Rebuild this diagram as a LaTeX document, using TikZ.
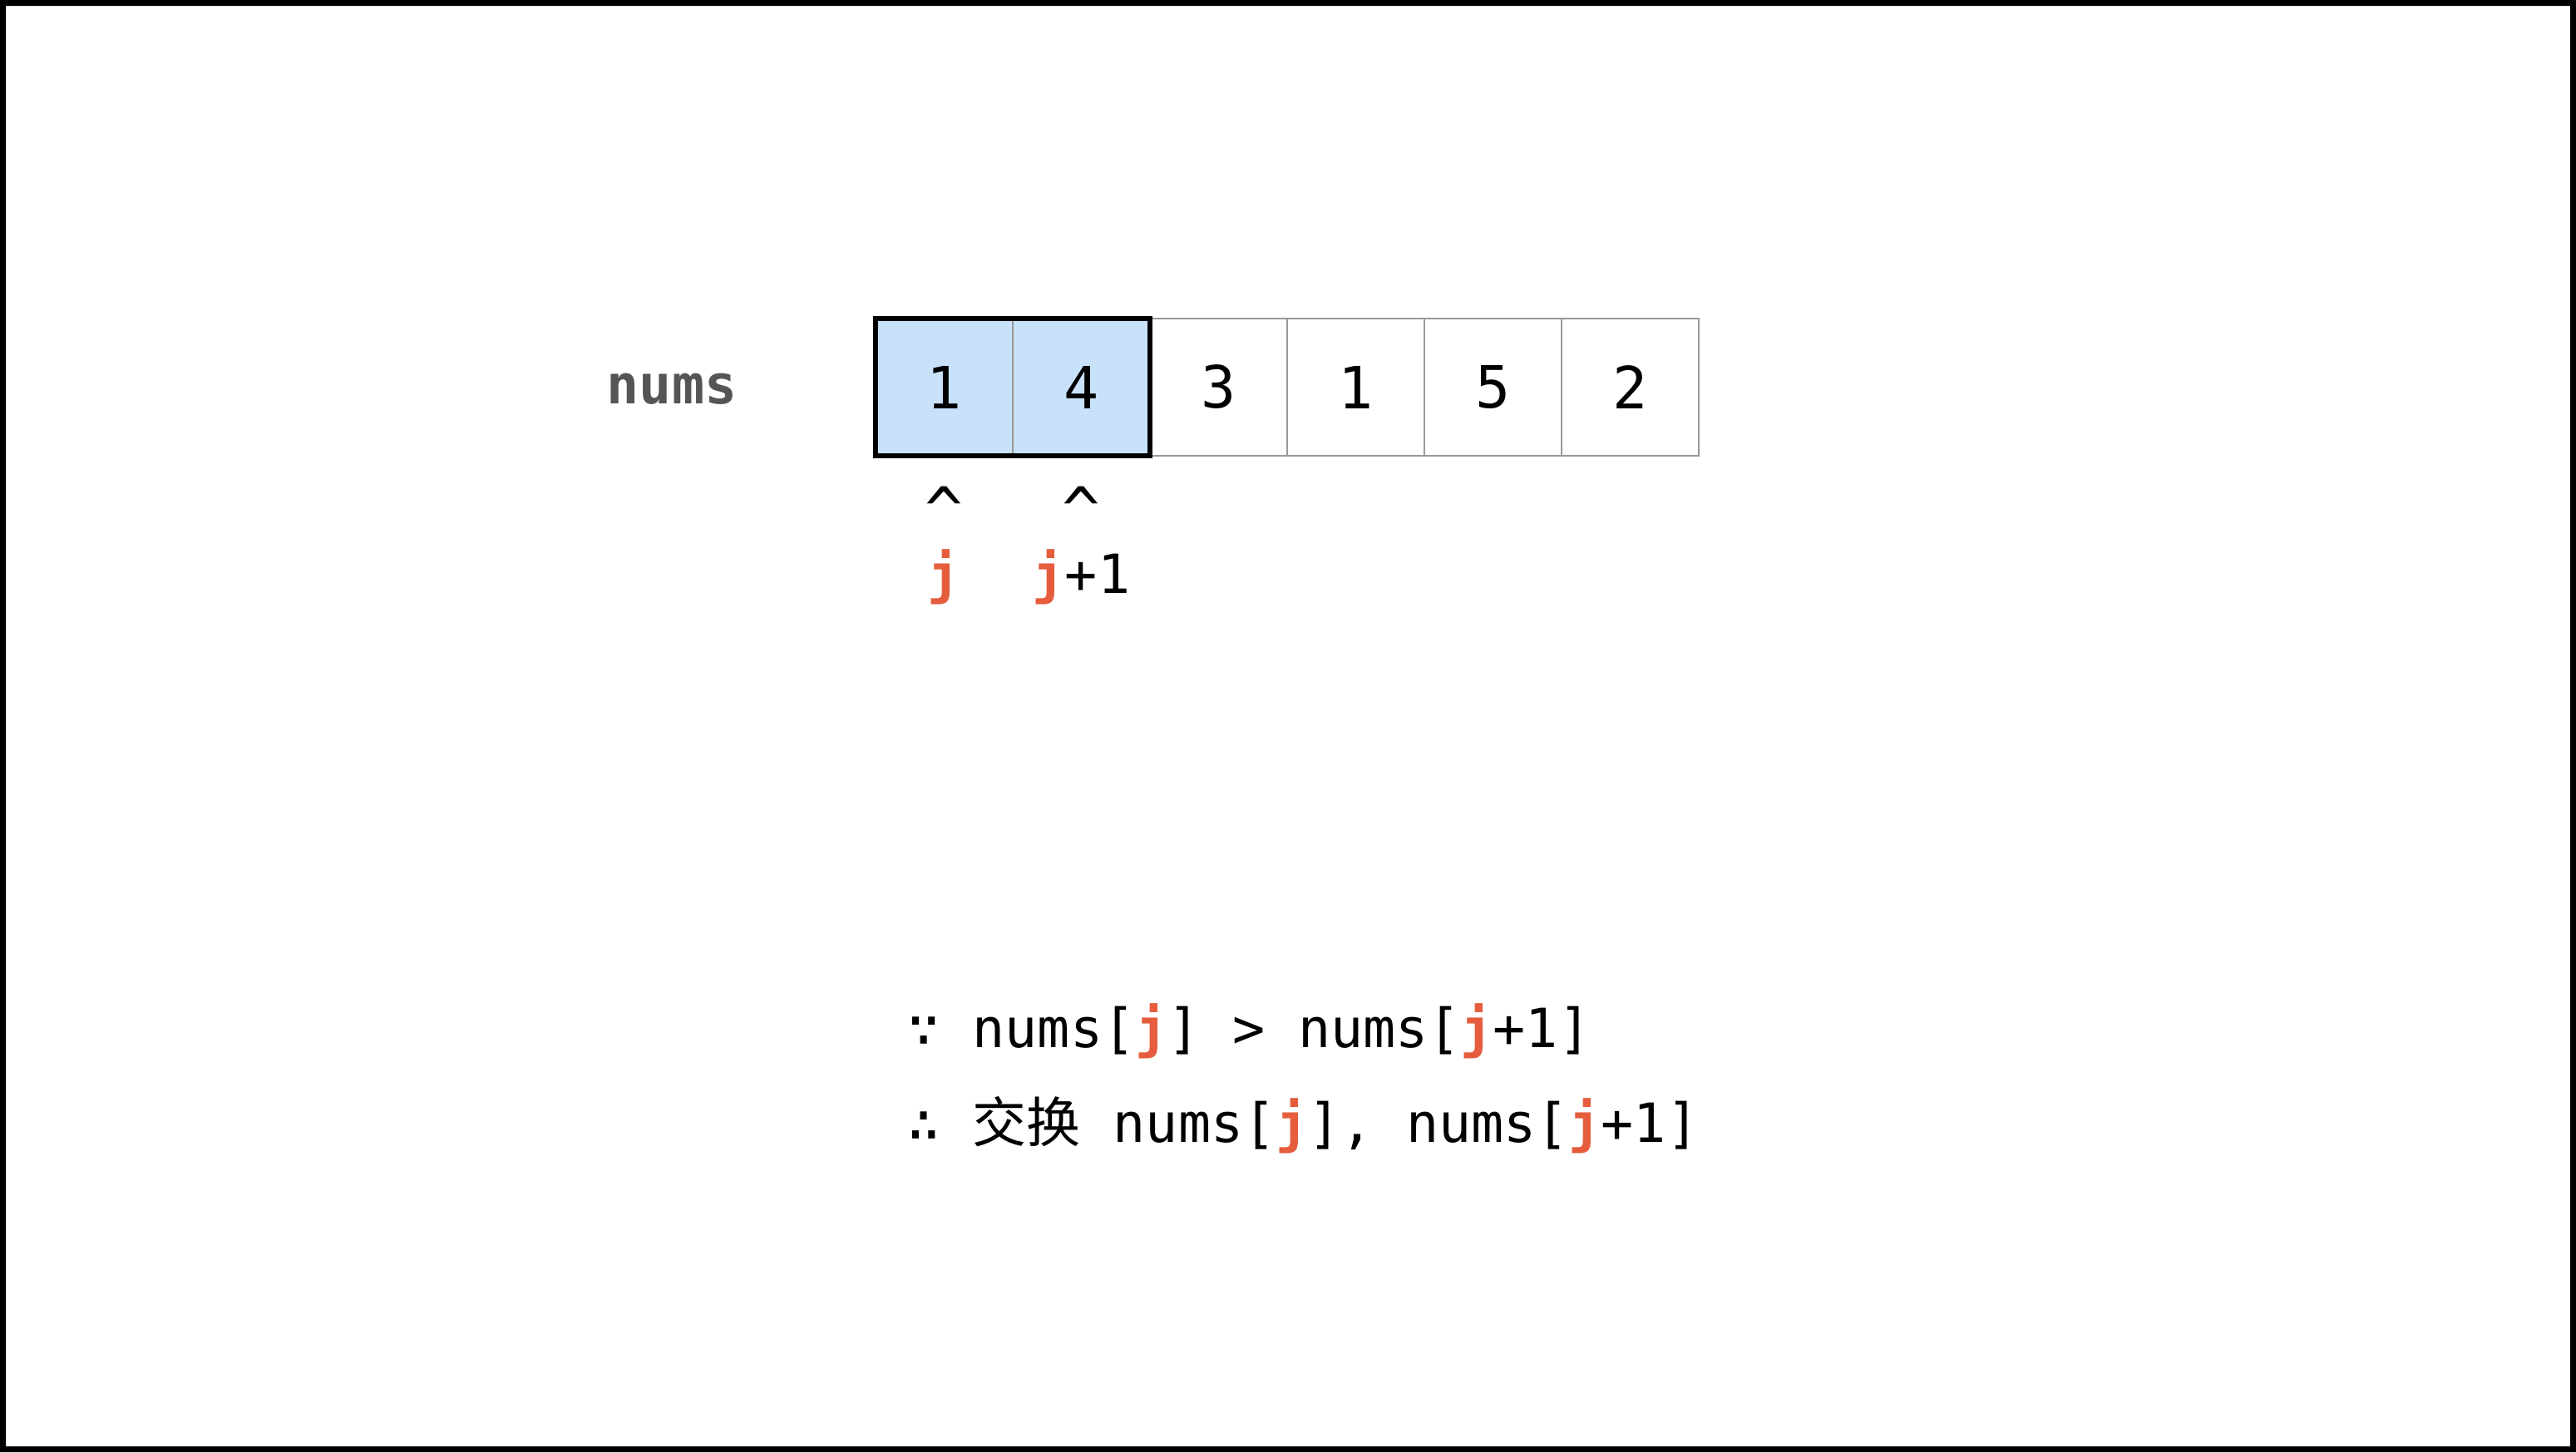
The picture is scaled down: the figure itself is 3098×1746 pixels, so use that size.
\documentclass[tikz,border=0pt]{standalone}
\usepackage{fontspec}
\setmonofont{DejaVu Sans Mono}
\newfontfamily\cjk{Noto Sans CJK SC}
\definecolor{cellblue}{HTML}{C8E2FA}
\definecolor{jred}{HTML}{E55D3D}
\definecolor{cellgray}{HTML}{999999}
\definecolor{labelgray}{HTML}{555555}
\newcommand{\jj}{\textcolor{jred}{\bfseries j}}
\begin{document}
\begin{tikzpicture}[x=0.5pt,y=-0.5pt,
  cell/.style={draw=cellgray,line width=1pt,minimum width=82.5pt,minimum height=82.5pt,
    inner sep=0pt,outer sep=0pt,anchor=north west,font=\ttfamily\fontsize{35pt}{40pt}\selectfont},
  mono/.style={inner sep=0pt,font=\ttfamily\fontsize{32.5pt}{39pt}\selectfont},
  caret/.style={inner sep=0pt,font=\ttfamily\fontsize{38pt}{44pt}\selectfont},
  hilite/.style={draw=black,line width=3pt}]
\useasboundingbox (0,0) rectangle (3098,1746);
\fill[white] (0,0) rectangle (3098,1746);
\fill[black,even odd rule] (0,0) rectangle (3098,1746) (7,7) rectangle (3091,1739);
% label
\node[mono,anchor=base,text=labelgray,font=\ttfamily\bfseries\fontsize{32.5pt}{39pt}\selectfont] (lbl) at (808,485) {nums};
% cells
\node[cell,fill=cellblue] (c0) at (1053,383) {1};
\node[cell,fill=cellblue] (c1) at (1218,383) {4};
\node[cell] (c2) at (1383,383) {3};
\node[cell] (c3) at (1548,383) {1};
\node[cell] (c4) at (1713,383) {5};
\node[cell] (c5) at (1878,383) {2};
\draw[hilite] (c0.north west) rectangle (c1.south east);
% pointers
\path (c0.south) ++(0,92) node[caret,anchor=base] (p0) {\textasciicircum};
\path (c1.south) ++(0,92) node[caret,anchor=base] (p1) {\textasciicircum};
\path (c0.south) ++(0,165) node[mono,anchor=base] (j0) {\jj};
\path (c1.south) ++(0,165) node[mono,anchor=base] (j1) {\jj+1};
% conditions
\node[mono,anchor=base west] (l1) at (1091,1259) {∵ nums[\jj] > nums[\jj+1]};
\node[mono,anchor=base west] (l2) at (1091,1373) {∴ {\cjk 交换} nums[\jj], nums[\jj+1]};
\end{tikzpicture}
\end{document}
